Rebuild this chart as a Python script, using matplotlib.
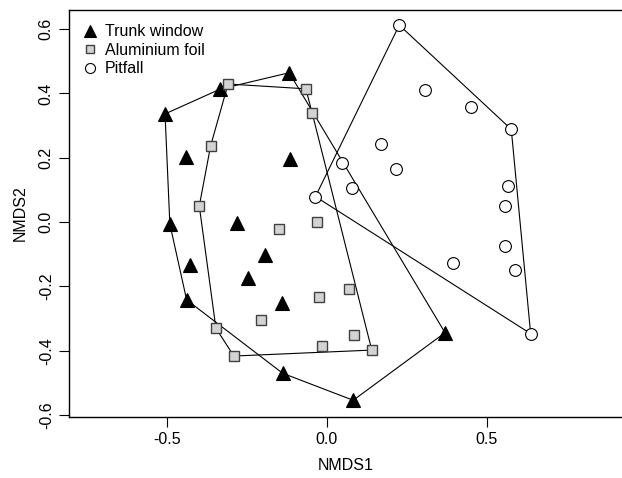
import matplotlib
matplotlib.use("Agg")
import matplotlib.pyplot as plt
import numpy as np
from matplotlib.lines import Line2D

plt.rcParams['font.family'] = ['Liberation Sans', 'DejaVu Sans']

# NMDS scores
trunk_x = [-0.505, -0.333, -0.117, -0.440, -0.115, -0.490, -0.279, -0.427,
           -0.193, -0.247, -0.4375, -0.139, -0.1375, 0.083, 0.370]
trunk_y = [0.336, 0.413, 0.464, 0.203, 0.196, -0.006, -0.004, -0.134,
           -0.103, -0.175, -0.242, -0.253, -0.470, -0.554, -0.344]

foil_x = [-0.308, -0.065, -0.045, -0.3625, -0.398, -0.148, -0.031, 0.071,
          -0.025, -0.204, -0.346, -0.290, -0.014, 0.085, 0.141]
foil_y = [0.429, 0.414, 0.338, 0.237, 0.050, -0.021, 0.000, -0.209,
          -0.232, -0.305, -0.330, -0.4165, -0.3845, -0.351, -0.398]

pit_x = [0.227, 0.308, 0.451, 0.577, 0.171, 0.049, 0.217, 0.078,
         0.566, -0.035, 0.556, 0.556, 0.396, 0.588, 0.6375]
pit_y = [0.612, 0.410, 0.358, 0.288, 0.242, 0.184, 0.164, 0.107,
         0.112, 0.079, 0.051, -0.075, -0.128, -0.149, -0.347]

groups = ['Trunk window', 'Aluminium foil', 'Pitfall']


def hull(xs, ys):
    # monotone chain convex hull, returns closed polygon
    pts = sorted(zip(xs, ys))

    def cross(o, a, b):
        return (a[0] - o[0]) * (b[1] - o[1]) - (a[1] - o[1]) * (b[0] - o[0])

    lower, upper = [], []
    for p in pts:
        while len(lower) >= 2 and cross(lower[-2], lower[-1], p) <= 0:
            lower.pop()
        lower.append(p)
    for p in reversed(pts):
        while len(upper) >= 2 and cross(upper[-2], upper[-1], p) <= 0:
            upper.pop()
        upper.append(p)
    h = lower[:-1] + upper[:-1]
    h.append(h[0])
    return np.array(h)


fig = plt.figure(figsize=(6.22, 4.78), dpi=100)
ax = fig.add_axes([0.111, 0.1276, 0.889, 0.8515])

styles = [
    dict(marker='^', ms=10.5, mfc='black', mec='black', mew=0.8),
    dict(marker='s', ms=7.2, mfc='#d3d3d3', mec='#404040', mew=1.0),
    dict(marker='o', ms=8.5, mfc='white', mec='black', mew=0.8),
]
data = [(trunk_x, trunk_y), (foil_x, foil_y), (pit_x, pit_y)]

for (xs, ys) in data:
    h = hull(xs, ys)
    ax.plot(h[:, 0], h[:, 1], color='black', lw=0.8, zorder=2)

for (xs, ys), st in zip(data, styles):
    ax.plot(xs, ys, ls='none', zorder=3, **st)

ax.set_xlim(-0.805, 0.923)
ax.set_ylim(-0.606, 0.659)
ax.set_xticks([-0.5, 0.0, 0.5])
ax.set_yticks([-0.6, -0.4, -0.2, 0.0, 0.2, 0.4, 0.6])
ax.set_xticklabels(['-0.5', '0.0', '0.5'])
ax.set_yticklabels(['-0.6', '-0.4', '-0.2', '0.0', '0.2', '0.4', '0.6'],
                   rotation=90, va='center')
ax.tick_params(direction='out', length=7, width=0.8, labelsize=11.5, pad=4)
ax.spines['right'].set_visible(False)
for s in ['left', 'bottom', 'top']:
    ax.spines[s].set_linewidth(1.0)

ax.set_xlabel('NMDS1', fontsize=11.5, labelpad=8)
ax.set_ylabel('NMDS2', fontsize=11.5, labelpad=8)

handles = [Line2D([], [], ls='none', **dict(st, ms=st['ms'] * 0.85)) for st in styles]
ax.legend(handles, groups, loc='upper left', frameon=False, fontsize=11.5,
          handlelength=0.8, handletextpad=0.55, labelspacing=0.22,
          borderaxespad=0.6, borderpad=0.3)

fig.savefig('out.png', dpi=100)
